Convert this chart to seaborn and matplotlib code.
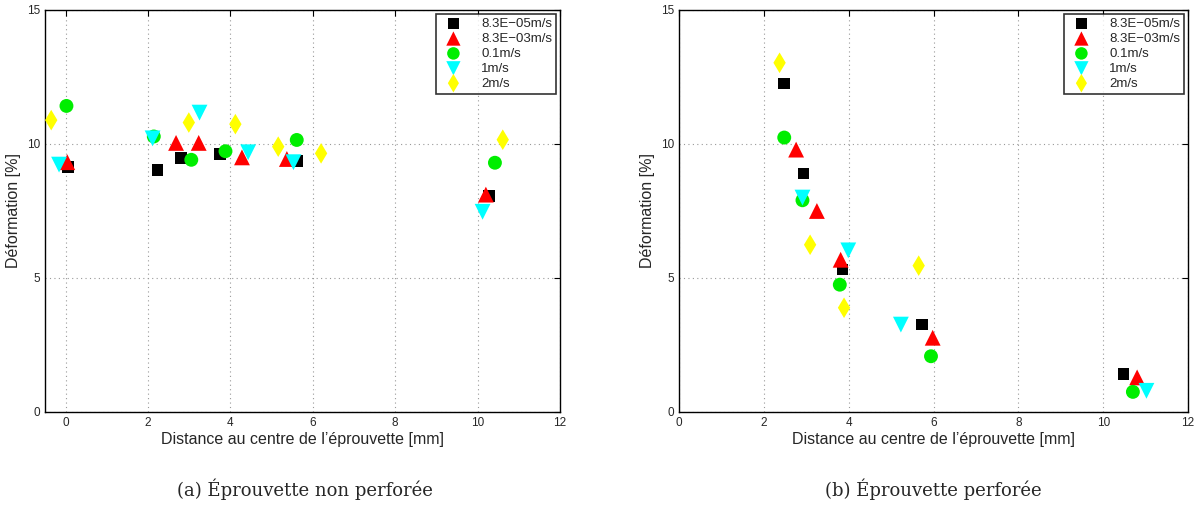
import pandas as pd
import matplotlib
matplotlib.use("Agg")
import matplotlib.pyplot as plt
import seaborn as sns

# Vitesses (légende)
vitesses = ['8.3E\u221205m/s', '8.3E\u221203m/s', '0.1m/s', '1m/s', '2m/s']

# (a) Eprouvette non perforée : distance [mm], déformation [%]
a_x = {
    vitesses[0]: [0.06, 2.23, 2.80, 3.74, 5.62, 10.28],
    vitesses[1]: [0.04, 2.68, 3.23, 4.28, 5.37, 10.20],
    vitesses[2]: [0.02, 2.14, 3.05, 3.88, 5.61, 10.42],
    vitesses[3]: [-0.16, 2.11, 3.25, 4.43, 5.53, 10.12],
    vitesses[4]: [-0.35, 2.99, 4.12, 5.16, 6.20, 10.61],
}
a_y = {
    vitesses[0]: [9.13, 9.04, 9.47, 9.63, 9.36, 8.05],
    vitesses[1]: [9.32, 10.04, 10.04, 9.50, 9.44, 8.11],
    vitesses[2]: [11.42, 10.28, 9.41, 9.73, 10.15, 9.30],
    vitesses[3]: [9.23, 10.21, 11.17, 9.69, 9.32, 7.47],
    vitesses[4]: [10.89, 10.80, 10.74, 9.90, 9.65, 10.16],
}

# (b) Eprouvette perforée
b_x = {
    vitesses[0]: [2.47, 2.93, 3.85, 5.73, 10.48],
    vitesses[1]: [2.76, 3.25, 3.81, 5.98, 10.80],
    vitesses[2]: [2.48, 2.91, 3.79, 5.94, 10.70],
    vitesses[3]: [2.91, 3.99, 5.23, 11.02],
    vitesses[4]: [2.37, 3.09, 3.89, 5.65],
}
b_y = {
    vitesses[0]: [12.26, 8.90, 5.31, 3.27, 1.42],
    vitesses[1]: [9.79, 7.50, 5.68, 2.77, 1.29],
    vitesses[2]: [10.24, 7.90, 4.75, 2.08, 0.75],
    vitesses[3]: [8.00, 6.03, 3.26, 0.79],
    vitesses[4]: [13.03, 6.24, 3.89, 5.46],
}

couleurs = ['black', 'red', '#00ee00', 'cyan', '#ffff00']
marqueurs = ['s', '^', 'o', 'v', 'd']
tailles = [70, 130, 100, 130, 110]

sns.set_style("white")
plt.rcParams['font.family'] = ['Liberation Sans', 'DejaVu Sans']

fig = plt.figure(figsize=(12.01, 5.09), dpi=100)
ax1 = fig.add_axes([0.0375, 0.1906, 0.4288, 0.7898])
ax2 = fig.add_axes([0.5654, 0.1906, 0.4238, 0.7898])


def tracer(ax, dx, dy, xmin):
    for v, c, m, s in zip(vitesses, couleurs, marqueurs, tailles):
        df = pd.DataFrame({'x': dx[v], 'y': dy[v]})
        sns.scatterplot(data=df, x='x', y='y', ax=ax, color=c, marker=m,
                        s=s, edgecolor='none', label=v, zorder=3)
    ax.set_xlim(xmin, 12)
    ax.set_ylim(0, 15)
    ax.set_xticks(range(0, 13, 2))
    ax.set_yticks([0, 5, 10, 15])
    ax.grid(True, linestyle=(0, (1, 3)), color='#999999', linewidth=0.8)
    ax.tick_params(direction='in', top=True, right=True, labelsize=8.5,
                   length=4, color='black')
    for sp in ax.spines.values():
        sp.set_color('black')
        sp.set_linewidth(1.0)
    ax.set_xlabel("Distance au centre de l\u2019\u00e9prouvette [mm]", fontsize=11.5, labelpad=2)
    ax.set_ylabel("D\u00e9formation [%]", fontsize=11.5, labelpad=4)
    leg = ax.legend(loc='upper right', fontsize=9.5, frameon=True, fancybox=False,
                    edgecolor='black', borderpad=0.3, labelspacing=0.2,
                    handletextpad=1.1, borderaxespad=0.3, markerscale=0.9,
                    handlelength=2.0)
    leg.get_frame().set_linewidth(1.2)


tracer(ax1, a_x, a_y, -0.5)
tracer(ax2, b_x, b_y, 0)

fig.text(0.2535, 0.025, "(a) \u00c9prouvette non perfor\u00e9e", ha='center',
         fontsize=13, family='DejaVu Serif')
fig.text(0.777, 0.025, "(b) \u00c9prouvette perfor\u00e9e", ha='center',
         fontsize=13, family='DejaVu Serif')

fig.savefig('out.png', dpi=100)
